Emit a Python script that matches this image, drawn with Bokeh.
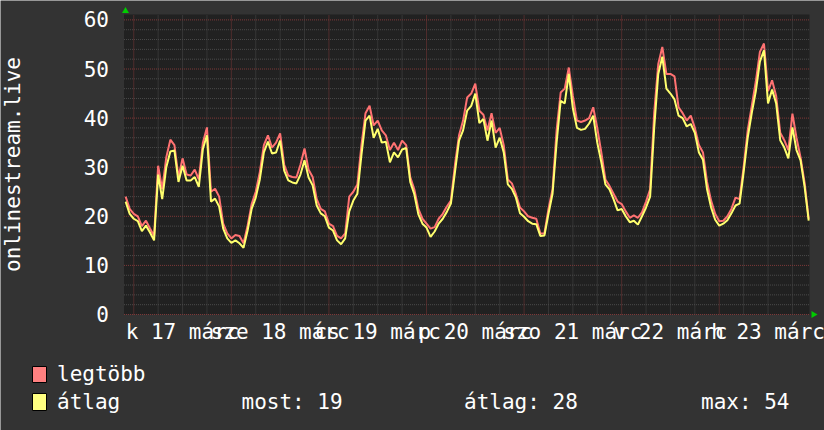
import math
from bokeh.plotting import figure
from bokeh.models import Range1d, ColumnDataSource
from bokeh.embed import file_html
from bokeh.resources import INLINE
from bokeh.core.properties import value

# hours since 17 March 00:00
hours = list(range(-2, 167))
atlag = [23, 20.5,
         19.5, 19, 17, 18.1, 16.7, 15.1, 28.5, 23.5, 30, 33.2, 33.4, 27,
         30.3, 27.3, 27.3, 28, 26, 33.7, 36.5, 23, 23.6, 22, 17.5, 15.5,
         14.6, 15.1, 14.5, 13.6, 17.1, 21.5, 23.8, 27.5, 33, 35.2, 32.8, 33,
         35.4, 29.3, 27.3, 26.9, 26.7, 28.5, 31.4, 27.9, 26.3, 22.2, 20.6, 20,
         17.7, 17.1, 15.1, 14.3, 15.5, 21, 23.2, 24.6, 32.5, 39.5, 40.5, 36,
         37.8, 35, 35.2, 31, 33, 32, 33.6, 33.9, 27, 24.5, 20.4, 18.5,
         17.7, 15.8, 16.9, 18.5, 19.5, 20.9, 22.6, 29, 35.4, 37.5, 41.5, 42.5,
         45, 39, 39.8, 35.4, 39.5, 34, 36, 33, 26.5, 25.6, 23.8, 20.6,
         19.9, 19, 18.5, 18.4, 16, 16.1, 20.5, 24.6, 35, 43.5, 43, 49,
         42, 38, 37.6, 37.8, 38.9, 40.5, 35, 31, 26.5, 25.5, 23.5, 21.2,
         21.5, 20, 18.8, 19.1, 18.3, 20, 21.8, 24, 38, 49, 52.5, 46,
         45, 43.8, 40.5, 40, 38.3, 38.8, 37, 33, 31.5, 25.5, 21.8, 19.3,
         18.1, 18.5, 19.2, 20.6, 22.2, 22.6, 29, 36, 41, 45.5, 51.5, 53.8,
         43, 45.8, 43, 35.5, 34, 31.8, 38.1, 33.5, 31.4, 26, 19.1]
legtobb = [24, 21.5,
           20.5, 20, 18, 19.1, 17.5, 16, 30.3, 25.5, 32, 35.6, 34.5, 28,
           31.8, 28.5, 28.3, 29.5, 27.5, 35, 38.1, 25, 25.6, 24, 18.5, 16.5,
           15.5, 16.2, 16, 14.5, 18.1, 22.5, 25, 29, 34.5, 36.5, 34, 35,
           36.9, 30.5, 28.3, 28, 27.9, 30.5, 33.8, 29.5, 28, 23.5, 21.5, 21,
           18.5, 18, 16, 15.5, 16.5, 24, 25, 26.5, 34.5, 41, 42.5, 38.5,
           39.5, 37.5, 36.5, 33.5, 35, 33.5, 35.4, 34.5, 28, 25.5, 21.5, 19.5,
           18.5, 17.5, 17.8, 19.5, 20.5, 22, 23.2, 30.5, 36.5, 39.5, 44.2, 45,
           47, 41.5, 40.7, 37.5, 41, 37, 38, 34.5, 27.5, 26.7, 24.5, 21.8,
           21, 20, 19.7, 19.5, 16.5, 16.5, 21.5, 25.5, 37.5, 45.2, 46, 50.3,
           44.5, 39.5, 39.2, 39.5, 40, 42.2, 38, 33, 27.5, 26.2, 24.6, 23,
           22.5, 21, 19.7, 20.2, 19.7, 20.8, 23, 25.5, 41, 51, 54.5, 49,
           49, 48.5, 42.2, 41, 39.5, 40.5, 38, 34.5, 33, 27, 23.2, 20.5,
           19, 19.1, 20, 21.5, 23.8, 23.5, 30, 37.5, 42.5, 47.5, 53.5, 55.2,
           45.5, 47.7, 44.5, 37, 35.5, 33.5, 40.9, 36, 32, 26.8, 19.5]

day_ticks = [12, 36, 60, 84, 108, 132, 156]
day_labels = ["k 17 márc", "sze 18 márc", "cs 19 márc", "p 20 márc",
              "szo 21 márc", "v 22 márc", "h 23 márc"]
midnights = [0, 24, 48, 72, 96, 120, 144]
y_ticks = [0, 10, 20, 30, 40, 50, 60]
y_tick_labels = ["0", "10", "20", "30", "40", "50", "60"]
series_names = ["legtöbb", "átlag"]
series_colors = ["#ff7272", "#ffff6e"]
legend_colors = ["#ff8080", "#ffff80"]
stat_texts = ["most: 19", "átlag: 28", "max: 54"]
y_title = "onlinestream.live"

FONT = value("DejaVu Sans Mono")
BG = "#333333"
PLOT_BG = "#212121"
TXT = "#ffffff"
TDY = 8.0   # renderer's baseline offset compensation (px)

# data extent of the graph area and its pixel box on the canvas
X0, X1 = -2.4, 166.2
Y0, Y1 = 0, 61.1
W, H = 824, 430
GL, GR, GT, GB = 123.5, 809.0, 14.0, 314.0
pxh = (GR - GL) / (X1 - X0)
pxv = (GB - GT) / (Y1 - Y0)


def hx(px):
    """canvas x pixel -> data x"""
    return X0 + (px - GL) / pxh


def vy(py):
    """canvas y pixel -> data y"""
    return Y0 + (GB - py) / pxv


p = figure(width=W, height=H, output_backend="svg", toolbar_location=None,
           x_range=Range1d(hx(0), hx(W)), y_range=Range1d(vy(H), vy(0)),
           min_border=0, x_axis_location=None, y_axis_location=None)
p.grid.visible = False
p.background_fill_color = BG
p.border_fill_color = BG
p.outline_line_color = None

# graph area
p.quad(left=[X0], right=[X1], bottom=[Y0], top=[Y1], fill_color=PLOT_BG,
       line_color=None)

# grid
six_h = [h for h in range(-24, 180, 6) if X0 <= h <= X1 and h not in midnights]
y_minor = [v for v in range(0, 62, 2) if v not in y_ticks]
p.segment(x0=six_h, x1=six_h, y0=[Y0] * len(six_h), y1=[Y1] * len(six_h),
          line_color="#4a4a4a", line_width=1, line_dash="1 1")
p.segment(x0=[X0] * len(y_minor), x1=[X1] * len(y_minor), y0=y_minor,
          y1=y_minor, line_color="#4a4a4a", line_width=1, line_dash="1 1")
p.segment(x0=midnights, x1=midnights, y0=[Y0] * len(midnights),
          y1=[Y1] * len(midnights), line_color="#7e3838", line_width=1,
          line_dash="1 1")
p.segment(x0=[X0] * len(y_ticks), x1=[X1] * len(y_ticks), y0=y_ticks,
          y1=y_ticks, line_color="#7e3838", line_width=1, line_dash="1 1")

# series
src = ColumnDataSource(dict(h=hours, avg=atlag, mx=legtobb))
p.line("h", "mx", source=src, line_color=series_colors[0], line_width=2)
p.line("h", "avg", source=src, line_color=series_colors[1], line_width=2)

# y tick labels
p.text(x=[hx(108.5)] * len(y_ticks),
       y=[v - (7.5 - TDY) / pxv for v in y_ticks],
       text=y_tick_labels, text_font=FONT, text_font_size="21px",
       text_color=TXT, text_align="right", text_baseline="alphabetic")

# x tick labels (they overlap, as in the original)
p.text(x=day_ticks, y=[vy(339 - TDY)] * len(day_ticks), text=day_labels,
       text_font=FONT, text_font_size="21px", text_color=TXT,
       text_align="center", text_baseline="alphabetic")

# y title
p.text(x=[hx(20.5 - TDY)], y=[vy(164)], text=[y_title], angle=math.pi / 2,
       text_font=FONT, text_font_size="21px", text_color=TXT,
       text_align="center", text_baseline="alphabetic")

# green arrows at the axis ends
p.scatter(x=[X0 + 1.5 / pxh], y=[Y1 + 3.5 / pxv], marker="triangle", size=7,
          fill_color="#00cc00", line_color=None)
p.scatter(x=[X1 + 4.0 / pxh], y=[Y0], marker="triangle", size=7,
          angle=-math.pi / 2, fill_color="#00cc00", line_color=None)

# legend
p.quad(left=[hx(32)] * 2, right=[hx(46)] * 2, top=[vy(366), vy(393)],
       bottom=[vy(382), vy(410)], fill_color=legend_colors,
       line_color="#000000", line_width=1)
p.text(x=[hx(56.5)] * 2, y=[vy(381 - TDY), vy(409 - TDY)], text=series_names,
       text_font=FONT, text_font_size="21px", text_color=TXT,
       text_align="left", text_baseline="alphabetic")
p.text(x=[hx(241), hx(463.5), hx(700.5)], y=[vy(409 - TDY)] * 3,
       text=stat_texts, text_font=FONT, text_font_size="21px",
       text_color=TXT, text_align="left", text_baseline="alphabetic")

open("out.html", "w").write(file_html(p, INLINE))
